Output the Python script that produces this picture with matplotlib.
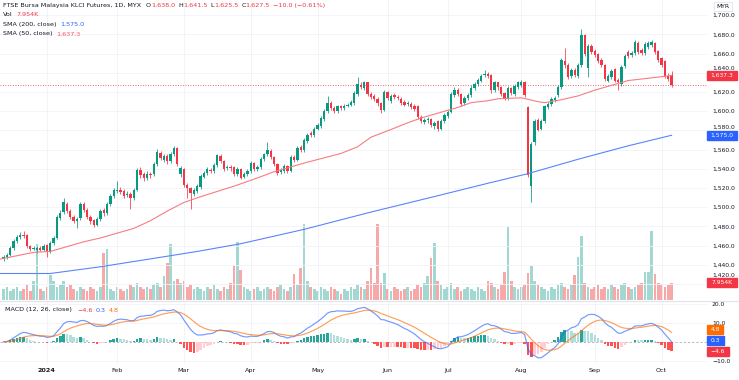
import numpy as np
import pandas as pd
import matplotlib
matplotlib.use('Agg')
import matplotlib.pyplot as plt
from matplotlib.patches import Rectangle

# daily bars, 13 Dec 2023 .. 4 Oct 2024 (index = trading day)
opens = [
    1446, 1448, 1450, 1458, 1465, 1469, 1471, 1471, 1460, 1457,
    1455, 1458, 1456, 1461, 1454, 1463, 1468, 1489, 1495, 1503,
    1496, 1490, 1486, 1489, 1503, 1497, 1490, 1487, 1482, 1488,
    1497, 1494, 1503, 1512, 1517, 1518, 1517, 1513, 1514, 1510,
    1518, 1539, 1535, 1530, 1535, 1535, 1545, 1557, 1549, 1553,
    1548, 1555, 1562, 1535, 1540, 1523, 1520, 1514, 1517, 1521,
    1532, 1536, 1539, 1538, 1544, 1553, 1548, 1541, 1542, 1542,
    1535, 1540, 1532, 1535, 1538, 1546, 1540, 1542, 1550, 1555,
    1559, 1552, 1545, 1537, 1538, 1543, 1538, 1552, 1549, 1563,
    1560, 1569, 1577, 1575, 1582, 1585, 1592, 1600, 1609, 1603,
    1600, 1605, 1603, 1606, 1607, 1609, 1618, 1627, 1624, 1630,
    1618, 1616, 1613, 1609, 1601, 1620, 1611, 1617, 1615, 1613,
    1610, 1608, 1608, 1606, 1606, 1594, 1589, 1591, 1592, 1585,
    1590, 1582, 1590, 1595, 1599, 1617, 1622, 1618, 1609, 1614,
    1617, 1624, 1628, 1632, 1638, 1639, 1638, 1622, 1630, 1625,
    1619, 1614, 1624, 1618, 1625, 1627, 1631, 1604, 1522, 1568,
    1591, 1582, 1590, 1604, 1608, 1612, 1617, 1625, 1652, 1648,
    1637, 1643, 1637, 1648, 1679, 1645, 1668, 1663, 1660, 1653,
    1648, 1632, 1636, 1644, 1633, 1628, 1647, 1662, 1659, 1661,
    1671, 1664, 1661, 1667, 1669, 1671, 1663, 1655, 1652, 1637,
    1638.0]
highs = [
    1450, 1452, 1460, 1467, 1471, 1474, 1475, 1472, 1461, 1460,
    1460, 1460, 1462, 1462, 1465, 1470, 1492, 1497, 1510, 1505,
    1498, 1492, 1490, 1505, 1505, 1499, 1492, 1488, 1490, 1498,
    1499, 1505, 1514, 1520, 1527, 1521, 1519, 1517, 1516, 1520,
    1541, 1542, 1537, 1538, 1537, 1547, 1561, 1559, 1555, 1555,
    1558, 1564, 1563, 1543, 1541, 1525, 1521, 1520, 1524, 1535,
    1538, 1542, 1541, 1546, 1556, 1555, 1549, 1544, 1544, 1543,
    1542, 1541, 1537, 1540, 1548, 1547, 1544, 1552, 1557, 1568,
    1561, 1553, 1546, 1541, 1545, 1544, 1554, 1554, 1564, 1565,
    1572, 1577, 1579, 1584, 1588, 1595, 1602, 1616, 1611, 1605,
    1607, 1607, 1608, 1609, 1612, 1621, 1636, 1630, 1632, 1631,
    1620, 1618, 1615, 1610, 1622, 1621, 1618, 1619, 1617, 1615,
    1612, 1611, 1610, 1608, 1607, 1596, 1593, 1594, 1593, 1590,
    1591, 1592, 1598, 1601, 1620, 1625, 1624, 1619, 1616, 1619,
    1627, 1630, 1635, 1639, 1643, 1641, 1639, 1632, 1631, 1626,
    1620, 1626, 1625, 1628, 1632, 1633, 1632, 1606, 1568, 1592,
    1593, 1592, 1607, 1610, 1615, 1616, 1627, 1655, 1666, 1650,
    1645, 1645, 1650, 1686, 1681, 1670, 1670, 1665, 1661, 1655,
    1649, 1639, 1644, 1645, 1635, 1648, 1660, 1664, 1663, 1674,
    1673, 1666, 1672, 1673, 1674, 1672, 1664, 1657, 1653, 1640,
    1641.5]
lows = [
    1444, 1446, 1449, 1456, 1463, 1467, 1468, 1458, 1454, 1455,
    1452, 1454, 1454, 1448, 1452, 1461, 1467, 1487, 1493, 1494,
    1488, 1484, 1478, 1487, 1495, 1488, 1483, 1479, 1480, 1486,
    1491, 1492, 1501, 1510, 1515, 1514, 1510, 1511, 1498, 1508,
    1517, 1531, 1527, 1528, 1531, 1533, 1543, 1549, 1547, 1545,
    1546, 1553, 1543, 1532, 1521, 1510, 1498, 1512, 1515, 1519,
    1530, 1534, 1536, 1536, 1542, 1546, 1538, 1539, 1538, 1533,
    1533, 1529, 1530, 1533, 1536, 1538, 1538, 1540, 1548, 1553,
    1550, 1543, 1534, 1535, 1536, 1536, 1537, 1547, 1548, 1558,
    1558, 1567, 1573, 1573, 1580, 1583, 1590, 1598, 1601, 1598,
    1598, 1601, 1601, 1604, 1605, 1607, 1616, 1623, 1622, 1616,
    1613, 1611, 1606, 1598, 1600, 1612, 1609, 1613, 1612, 1607,
    1605, 1606, 1602, 1600, 1592, 1588, 1587, 1588, 1584, 1582,
    1579, 1580, 1588, 1593, 1598, 1615, 1616, 1606, 1607, 1612,
    1615, 1622, 1626, 1630, 1636, 1635, 1619, 1620, 1622, 1616,
    1612, 1612, 1617, 1616, 1623, 1625, 1615, 1532, 1506, 1565,
    1579, 1580, 1588, 1602, 1606, 1610, 1615, 1623, 1645, 1634,
    1635, 1636, 1635, 1646, 1658, 1636, 1660, 1657, 1650, 1646,
    1632, 1630, 1634, 1630, 1622, 1626, 1645, 1656, 1657, 1659,
    1660, 1659, 1659, 1665, 1667, 1660, 1651, 1646, 1635, 1632,
    1625.5]
closes = [
    1448, 1450, 1458, 1465, 1469, 1471, 1470, 1460, 1457, 1458,
    1458, 1456, 1460, 1454, 1463, 1468, 1490, 1494, 1505, 1496,
    1490, 1486, 1488, 1503, 1497, 1490, 1486, 1482, 1488, 1496,
    1494, 1503, 1512, 1518, 1518, 1516, 1512, 1514, 1510, 1518,
    1539, 1534, 1530, 1535, 1534, 1545, 1558, 1551, 1553, 1548,
    1556, 1562, 1545, 1541, 1523, 1520, 1515, 1518, 1522, 1533,
    1536, 1540, 1538, 1544, 1554, 1548, 1540, 1542, 1541, 1535,
    1540, 1531, 1535, 1538, 1546, 1540, 1542, 1550, 1555, 1560,
    1552, 1545, 1536, 1539, 1543, 1538, 1552, 1549, 1562, 1560,
    1570, 1575, 1575, 1582, 1586, 1593, 1600, 1609, 1603, 1600,
    1605, 1603, 1606, 1607, 1610, 1619, 1628, 1625, 1630, 1618,
    1615, 1613, 1609, 1601, 1620, 1614, 1616, 1615, 1614, 1609,
    1607, 1609, 1604, 1602, 1594, 1590, 1591, 1592, 1586, 1588,
    1582, 1590, 1596, 1599, 1618, 1622, 1618, 1608, 1614, 1617,
    1624, 1628, 1633, 1637, 1639, 1637, 1622, 1630, 1625, 1618,
    1614, 1624, 1619, 1626, 1630, 1631, 1617, 1534, 1566, 1590,
    1581, 1590, 1605, 1608, 1613, 1614, 1625, 1653, 1648, 1636,
    1643, 1638, 1648, 1679, 1660, 1668, 1662, 1659, 1652, 1648,
    1634, 1637, 1642, 1632, 1630, 1646, 1658, 1658, 1661, 1672,
    1662, 1661, 1670, 1671, 1672, 1662, 1653, 1648, 1637, 1634,
    1627.5]
# volume in thousands
volumes = [
    5, 6, 4, 5, 6, 4, 5, 7, 4, 9,
    26, 5, 4, 6, 11.7, 9, 6, 7, 9, 6,
    7, 5, 4, 6, 5, 4, 6, 5, 4, 6,
    22, 24, 5, 4, 6, 5, 4, 5, 7, 6,
    8, 6, 5, 6, 5, 7, 8, 6, 11, 17.5,
    26, 9, 10, 8, 9, 6, 7, 5, 6, 5,
    4, 6, 5, 7, 5, 4, 6, 5, 8, 16.5,
    27, 14, 6, 5, 4, 5, 6, 4, 5, 6,
    5, 4, 6, 7, 5, 4, 6, 12, 7, 15,
    35.5, 9, 6, 5, 4, 6, 5, 4, 6, 5,
    4, 3, 5, 4, 6, 5, 7, 6, 5, 9,
    15, 8, 35.5, 8, 12.6, 5, 4, 6, 5, 4,
    5, 6, 4, 5, 7, 6, 8, 11, 19.6, 26.6,
    9, 7, 5, 6, 8, 5, 6, 4, 5, 6,
    5, 4, 6, 5, 4, 9, 8, 6, 5, 7,
    13, 34, 9, 6, 5, 6, 7, 12.6, 16, 9,
    7, 6, 5, 4, 6, 5, 7, 8, 6, 5,
    7, 11.7, 20, 30, 8, 6, 5, 6, 7, 5,
    6, 5, 7, 6, 5, 7, 8, 6, 5, 6,
    7, 8, 13, 13, 32, 12, 8, 7, 6, 7,
    7.954]

# moving averages (bar index, value)
sma50_idx = [-1, 9, 14, 24, 29, 39, 44, 49, 54, 59, 69, 74, 81, 91, 101, 106, 110, 116,
             121, 125, 130, 136, 140, 145, 148, 155, 160, 162, 167, 172, 177, 182, 187,
             192, 197, 200]
sma50_val = [1446, 1453, 1454, 1464, 1468, 1478, 1486, 1496, 1505, 1511, 1522, 1528, 1537,
             1547, 1556, 1563, 1573, 1581, 1588, 1593, 1598, 1604, 1609, 1611, 1613, 1614,
             1610, 1609, 1612, 1616, 1622, 1627, 1632, 1634, 1636, 1637.3]
sma200_idx = [-1, 14, 29, 49, 58, 71, 90, 110, 130, 145, 157, 172, 187, 200]
sma200_val = [1431, 1431, 1438, 1449, 1454, 1462, 1477, 1495, 1512, 1525, 1535, 1550, 1564, 1575]

month_idx = [13, 34, 54, 74, 94, 115, 133, 155, 177, 197]
month_lbl = ['2024', 'Feb', 'Mar', 'Apr', 'May', 'Jun', 'Jul', 'Aug', 'Sep', 'Oct']

price_ticks = list(range(1420, 1701, 20))
hidden_ticks = [1420, 1580, 1640]   # sit behind the value badges

UP, DN = '#089981', '#f23645'
VUP, VDN = '#a3d8d2', '#f7a8a8'
TXT = '#131722'
GRID = '#f0f3fa'

W, H = 739, 380
PR = 707  # right edge of chart panes (px)
fig = plt.figure(figsize=(W / 100, H / 100), dpi=100)
fig.patch.set_facecolor('white')


def box(x0, y0, x1, y1):
    return [x0 / W, 1 - y1 / H, (x1 - x0) / W, (y1 - y0) / H]


ax_v = fig.add_axes(box(0, 0, PR, 300))
ax = fig.add_axes(box(0, 0, PR, 300), sharex=ax_v)
ax_m = fig.add_axes(box(0, 301, PR, 364), sharex=ax_v)
ax.patch.set_alpha(0)

o = np.array(opens); h = np.array(highs); l = np.array(lows); c = np.array(closes)
x = np.arange(len(c))
up = c >= o
cols = np.where(up, UP, DN)

# volume
ax_v.bar(x, volumes, width=0.8, color=np.where(up, VUP, VDN), zorder=2)
ax_v.set_ylim(0, 140)
ax_v.axis('off')

# grid
for p in price_ticks:
    ax.axhline(p, color=GRID, lw=0.6, zorder=0)
for m in month_idx:
    ax.axvline(m, color=GRID, lw=0.6, zorder=0)
    ax_m.axvline(m, color=GRID, lw=0.6, zorder=0)

# candles
ax.vlines(x, l, h, colors=cols, lw=0.55, zorder=3)
body = np.maximum(np.abs(c - o), 0.6)
ax.bar(x, body, bottom=np.minimum(o, c), width=0.7, color=cols, zorder=4)

ax.plot(sma50_idx, sma50_val, color='#f77c80', lw=0.8, zorder=5)
ax.plot(sma200_idx, sma200_val, color='#5b84fb', lw=0.8, zorder=5)
ax.axhline(closes[-1], color=DN, lw=0.6, ls=(0, (1, 2)), zorder=2)

ax.set_xlim(-1.05, 210.6)
ax.set_ylim(1403.4, 1715.9)
ax.set_yticks(price_ticks)
ax.set_yticklabels(['' if v in hidden_ticks else f'{v:,.1f}' for v in price_ticks])
ax.yaxis.tick_right()
ax.tick_params(axis='y', length=0, pad=3.6, labelsize=4.3, labelcolor=TXT)
ax.tick_params(axis='x', bottom=False, labelbottom=False)
for s in ax.spines.values():
    s.set_visible(False)

# MACD
cs = pd.Series(closes)
macd = cs.ewm(span=12, adjust=False).mean() - cs.ewm(span=26, adjust=False).mean()
sig = macd.ewm(span=9, adjust=False).mean()
hist = (macd - sig).values
prev = np.r_[hist[0], hist[:-1]]
hcol = np.where(hist >= 0, np.where(hist >= prev, '#26a69a', '#b2dfdb'),
                np.where(hist < prev, '#ff5252', '#ffcdd2'))
for g in (20, 10, -10):
    ax_m.axhline(g, color=GRID, lw=0.6, zorder=0)
ax_m.axhline(0, color='#9598a1', lw=0.5, ls=(0, (3, 3)), zorder=1)
ax_m.bar(x, hist, width=0.75, color=hcol, zorder=2)
ax_m.plot(x, macd, color='#2962ff', lw=0.85, alpha=0.65, zorder=3)
ax_m.plot(x, sig, color='#ff6d00', lw=0.85, alpha=0.65, zorder=3)
ax_m.set_ylim(-11.7, 21.5)
ax_m.set_yticks([-10, 10, 20])
ax_m.set_yticklabels(['\u221210.0', '10.0', '20.0'])
ax_m.yaxis.tick_right()
ax_m.tick_params(axis='y', length=0, pad=3.6, labelsize=4.3, labelcolor=TXT)
ax_m.set_xticks(month_idx)
ax_m.set_xticklabels(month_lbl)
ax_m.tick_params(axis='x', length=0, pad=2.6, labelsize=4.6, labelcolor=TXT)
ax_m.get_xticklabels()[0].set_fontweight('bold')
for s in ax_m.spines.values():
    s.set_visible(False)

# pane separator
fig.add_artist(plt.Line2D([0, 1], [1 - 300.5 / H] * 2, color='#e0e3eb', lw=0.8))


def ypx(axis, v):
    return H - axis.transData.transform((0, v))[1]


# badges on the price scale
def badge(yp, text, color, x1=737):
    fig.add_artist(Rectangle((PR / W, 1 - (yp + 4.5) / H), (x1 - PR) / W, 9 / H,
                             transform=fig.transFigure, color=color, zorder=10))
    fig.text((PR + x1) / 2 / W, 1 - yp / H, text, color='white', fontsize=4.3,
             ha='center', va='center', zorder=11)
    return yp


b_sma50 = badge(ypx(ax, 1637.3), '1,637.3', DN)
b_sma200 = badge(ypx(ax, 1575.0), '1,575.0', '#2962ff')
b_vol = badge(ypx(ax_v, volumes[-1]), '7.954K', DN)
badge(ypx(ax_m, 6.4), '4.8', '#ff6d00', 723)
badge(ypx(ax_m, 0.6), '0.3', '#2962ff', 724)
badge(ypx(ax_m, -5.0), '\u22124.6', DN, 729)

# price labels that the badges would cover: lift them just above the badge
for v, b in zip(hidden_ticks, [b_vol, b_sma200, b_sma50]):
    yp = min(ypx(ax, v), b - 7.5)
    fig.text(712 / W, 1 - yp / H, f'{v:,.1f}', fontsize=4.3, color=TXT,
             ha='left', va='center')

fig.text(723 / W, 1 - 6.5 / H, 'MYR', fontsize=4.3, color=TXT, ha='center', va='center',
         bbox=dict(boxstyle='square,pad=0.35', fc='white', ec='#e0e3eb', lw=0.6))

# legends
fig.canvas.draw()
r = fig.canvas.get_renderer()


def run(xp, yp, parts, size=4.6):
    for s, col, gap in parts:
        t = fig.text(xp / W, 1 - yp / H, s, color=col, fontsize=size, va='center', ha='left')
        xp += t.get_window_extent(r).width + gap


run(3, 5.5, [('FTSE Bursa Malaysia KLCI Futures, 1D, MYX', TXT, 5),
             ('O', TXT, 0), ('1,638.0', DN, 3), ('H', TXT, 0), ('1,641.5', DN, 3),
             ('L', TXT, 0), ('1,625.5', DN, 3), ('C', TXT, 0), ('1,627.5', DN, 3),
             ('\u221210.0 (\u22120.61%)', DN, 0)])
run(3, 15, [('Vol', TXT, 4), ('7.954K', DN, 0)])
run(3, 24.5, [('SMA (200, close)', TXT, 4), ('1,575.0', '#2962ff', 0)])
run(3, 34, [('SMA (50, close)', TXT, 4), ('1,637.3', '#f7525f', 0)])
run(5, 310, [('MACD (12, 26, close)', TXT, 5), ('\u22124.6', DN, 3),
             ('0.3', '#2962ff', 3), ('4.8', '#ff6d00', 0)])

fig.savefig('out.png', dpi=100, facecolor='white')
